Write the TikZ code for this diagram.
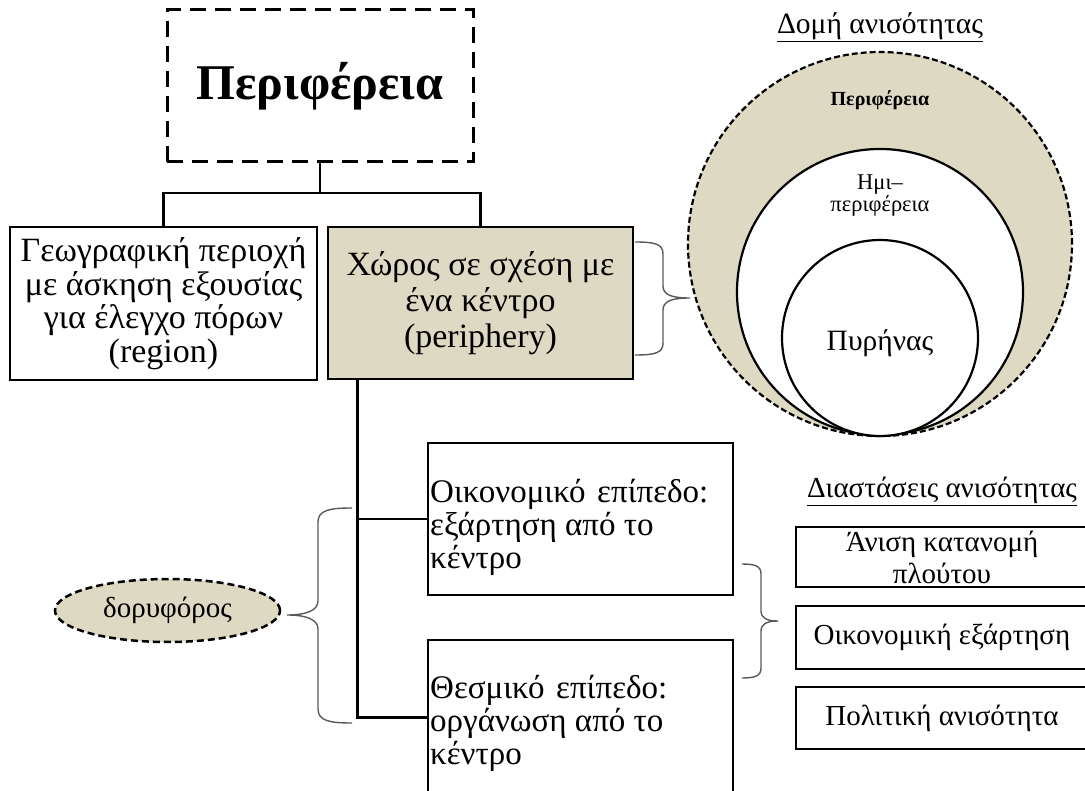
\documentclass[tikz,border=0pt]{standalone}
\usepackage{fontspec}
\setmainfont{Liberation Serif}
\usetikzlibrary{shapes.geometric}
\definecolor{tanfill}{HTML}{DDD9C3}
\definecolor{bracegray}{HTML}{595959}
\begin{document}
\begin{tikzpicture}[x=1pt,y=-1pt,
  box/.style={draw, line width=2.6pt, inner sep=0pt},
  conn/.style={line width=2.8pt},
  brc/.style={draw=bracegray, line width=1.4pt},
  txt/.style={inner sep=0pt},
  dimbox/.style={box, minimum width=292pt, font=\fontsize{29}{32}\selectfont, align=center},
  lefttxt/.style={txt, anchor=north west, align=left, font=\fontsize{33}{33}\selectfont}
]
\useasboundingbox (0,0) rectangle (1085,791);
\clip (0,0) rectangle (1085,791);

% title
\node[box, dash pattern=on 16pt off 9pt, line width=3pt, minimum width=306pt, minimum height=152pt]
  (title) at (320,86) {\fontsize{50}{60}\selectfont\bfseries Περιφέρεια};

% two boxes
\node[box, minimum width=307pt, minimum height=153pt, align=center, font=\fontsize{34}{33.5}\selectfont]
  (region) at (163.5,303.5) {Γεωγραφική περιοχή\\με άσκηση εξουσίας\\για έλεγχο πόρων\\(region)};
\node[box, fill=tanfill, minimum width=305pt, minimum height=152pt, align=center, font=\fontsize{34}{36}\selectfont]
  (periph) at (480.5,303) {Χώρος σε σχέση με\\ένα κέντρο\\(periphery)};

% connectors from title
\coordinate (junc) at (320,193);
\draw[conn] (title.south) -- (junc);
\draw[conn] (region.north) |- (junc) -| (periph.north);

% level boxes
\node[box, minimum width=305pt, minimum height=152pt] (econ) at (580.5,519) {};
\node[box, minimum width=305pt, minimum height=155pt] (inst) at (580.5,717.5) {};
\node[lefttxt] (econtxt) at (430,479) {Οικονομικό\hspace{0.1em} επίπεδο:\\εξάρτηση από το\\κέντρο};
\node[lefttxt] (insttxt) at (430,675) {Θεσμικό\hspace{0.1em} επίπεδο:\\οργάνωση από το\\κέντρο};

\coordinate (trunk) at ([xshift=31pt]periph.south west);
\draw[conn] (trunk) -- (trunk |- inst.west) -- (inst.west);
\draw[conn] (trunk |- econ.west) -- (econ.west);

% satellite
\node[ellipse, draw, dash pattern=on 7pt off 4pt, line width=2.5pt, fill=tanfill, minimum width=225pt, minimum height=63pt, inner sep=0pt]
  (sat) at (167.5,610.5) {\fontsize{29}{32}\selectfont δορυφόρος};

% braces
\draw[brc] (352,508) .. controls (330,508) and (318,510) .. (318,522) -- (318,601)
  .. controls (318,611) and (305,615) .. (287,615)
  .. controls (305,615) and (318,619) .. (318,629) -- (318,709)
  .. controls (318,721) and (330,723) .. (352,723);
\draw[brc] (635,242) .. controls (655,242) and (663,244) .. (663,254) -- (663,286)
  .. controls (663,295) and (672,298) .. (690,298)
  .. controls (672,298) and (663,301) .. (663,310) -- (663,343)
  .. controls (663,353) and (655,355) .. (635,355);
\draw[brc] (742,564) .. controls (755,564) and (761,566) .. (761,574) -- (761,611)
  .. controls (761,618) and (767,621) .. (778,621)
  .. controls (767,621) and (761,624) .. (761,631) -- (761,668)
  .. controls (761,676) and (755,678) .. (742,678);

% circles
\node[circle, draw, dash pattern=on 6pt off 3pt, line width=2.2pt, fill=tanfill, minimum size=384pt, inner sep=0pt] (outer) at (880,244) {};
\node[circle, draw, line width=2.2pt, fill=white, minimum size=286pt, inner sep=0pt] (middle) at (880,292) {};
\node[circle, draw, line width=2.2pt, fill=white, minimum size=196pt, inner sep=0pt] (inner) at (880,338) {};
\node[txt, font=\fontsize{20}{22}\selectfont\bfseries] (perlbl) at (880,100) {Περιφέρεια};
\node[txt, align=center, font=\fontsize{22.5}{22}\selectfont] (semilbl) at (880,196) {Ημι–\\περιφέρεια};
\node[txt, font=\fontsize{29.5}{32}\selectfont] (corelbl) at (880,343) {Πυρήνας};
\node[txt, font=\fontsize{29.5}{32}\selectfont] (structlbl) at (880,27) {\underline{Δομή ανισότητας}};

% dimensions
\node[txt, font=\fontsize{29}{32}\selectfont] (dimlbl) at (942,491) {\underline{Διαστάσεις ανισότητας}};
\node[dimbox, minimum height=60pt] (dim1) at (942,557) {Άνιση κατανομή\\πλούτου};
\node[dimbox, minimum height=63pt] (dim2) at (942,637.5) {Οικονομική εξάρτηση};
\node[dimbox, minimum height=62pt] (dim3) at (942,718) {Πολιτική ανισότητα};
\end{tikzpicture}
\end{document}
